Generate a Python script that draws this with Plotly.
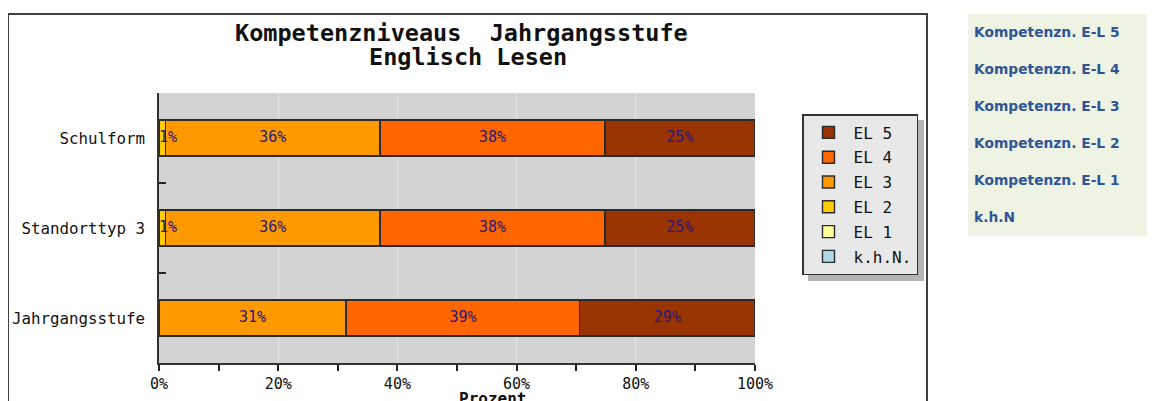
import plotly.graph_objects as go

# ---- data ----
categories = ["Schulform", "Standorttyp 3", "Jahrgangsstufe"]
series_names = ["k.h.N.", "EL 1", "EL 2", "EL 3", "EL 4", "EL 5"]
series_colors = ["#ADD8E6", "#FFFF99", "#FFCC00", "#FF9900", "#FF6600", "#993300"]
khn = [0, 0, 0]
el1 = [0, 0, 0]
el2 = [1.1, 1.1, 0]
el3 = [36.0, 36.0, 31.4]
el4 = [37.7, 37.7, 39.2]
el5 = [25.2, 25.2, 29.4]
series_values = [khn, el1, el2, el3, el4, el5]
x_ticks = [0, 20, 40, 60, 80, 100]
title_line1 = "Kompetenzniveaus  Jahrgangsstufe"
title_line2 = "Englisch Lesen"
x_title = "Prozent"
side_links = ["Kompetenzn. E-L 5", "Kompetenzn. E-L 4", "Kompetenzn. E-L 3",
              "Kompetenzn. E-L 2", "Kompetenzn. E-L 1", "k.h.N"]

# ---- layout geometry (window pixels; page body adds an 8px offset) ----
OFF = 8
W, H = 1155 - OFF, 401 - OFF
L, R, T, B = 159, 755, 93, 363          # plot area in window pixels
pw, ph = R - L, B - T


def px(x):
    return (x - L) / pw


def py(y):
    return (B - y) / ph


MONO = "DejaVu Sans Mono"

fig = go.Figure()
n = len(series_names)
for i, (name, color, vals) in enumerate(zip(series_names, series_colors, series_values)):
    fig.add_trace(go.Bar(
        y=categories, x=vals, name=name, orientation="h",
        marker=dict(color=color, line=dict(color="#2b2b2b", width=1.4)),
        width=0.4, legendgroup=name, legendrank=n - i,
        hoverinfo="skip",
    ))

# value labels: centred in each stacked segment; very narrow segments start at the segment's left edge
lab_x, lab_y, lab_t, lab_pos = [], [], [], []
for c_idx, cat in enumerate(categories):
    start = 0.0
    for vals in series_values:
        v = vals[c_idx]
        if v > 0:
            narrow = v < 3
            lab_x.append(start if narrow else start + v / 2)
            lab_pos.append("middle right" if narrow else "middle center")
            lab_y.append(cat)
            lab_t.append(f"{v:.0f}%")
        start += v
fig.add_trace(go.Scatter(
    x=lab_x, y=lab_y, text=lab_t, mode="text", textposition=lab_pos,
    textfont=dict(family=MONO, size=15, color="#2a1a80"),
    showlegend=False, hoverinfo="skip", cliponaxis=False,
))

shapes = [
    # outer frame
    dict(type="rect", xref="paper", yref="paper",
         x0=px(8), x1=px(927), y0=py(420), y1=py(14),
         line=dict(color="#404040", width=2), layer="below"),
    # side panel
    dict(type="rect", xref="paper", yref="paper",
         x0=px(968), x1=px(1170), y0=py(236), y1=py(14),
         line=dict(width=0), fillcolor="#EEF3E3", layer="below"),
    # legend shadow
    dict(type="rect", xref="paper", yref="paper",
         x0=px(808), x1=px(924), y0=py(281), y1=py(120),
         line=dict(width=0), fillcolor="#b4b4b4", layer="below"),
]

annotations = [
    dict(text=f"<b>{title_line1}</b>", xref="paper", yref="paper",
         x=px(461), y=py(33), showarrow=False, xanchor="center", yanchor="middle",
         font=dict(family=MONO, size=23.5, color="#111111")),
    dict(text=f"<b>{title_line2}</b>", xref="paper", yref="paper",
         x=px(468), y=py(57), showarrow=False, xanchor="center", yanchor="middle",
         font=dict(family=MONO, size=23.5, color="#111111")),
    dict(text=f"<b>{x_title}</b>", xref="paper", yref="paper",
         x=px(492), y=py(398), showarrow=False, xanchor="center", yanchor="middle",
         font=dict(family=MONO, size=16, color="#111111")),
]
link_y = [32, 69, 106, 143, 180, 217]
for txt, yy in zip(side_links, link_y):
    annotations.append(dict(
        text=f"<b>{txt}</b>", xref="paper", yref="paper",
        x=px(972), y=py(yy), showarrow=False, xanchor="left", yanchor="middle",
        font=dict(family="DejaVu Sans", size=13.8, color="#2f5597")))

fig.update_layout(
    width=W, height=H,
    margin=dict(l=L - OFF, r=W - (R - OFF), t=T - OFF, b=H - (B - OFF), pad=0,
                autoexpand=False),
    barmode="stack",
    paper_bgcolor="white",
    plot_bgcolor="#d3d3d3",
    font=dict(family=MONO, size=15, color="#111111"),
    showlegend=True,
    legend=dict(
        x=px(802), y=py(114), xanchor="left", yanchor="top",
        bgcolor="#e8e8e8", bordercolor="#333333", borderwidth=1.5,
        traceorder="grouped", tracegroupgap=1, itemwidth=40,
        font=dict(family=MONO, size=16, color="#111111"),
        itemclick=False, itemdoubleclick=False,
    ),
    xaxis=dict(
        range=[0, 100], tickvals=x_ticks, ticktext=[f"{v}%" for v in x_ticks],
        ticks="outside", ticklen=6, tickcolor="#222222", tickwidth=1.5,
        minor=dict(dtick=10, ticks="outside", ticklen=6, tickcolor="#222222", tickwidth=1.5,
                   showgrid=False),
        showgrid=True, gridcolor="#e4e4e4", gridwidth=1,
        showline=True, linecolor="#333333", linewidth=1.5,
        zeroline=False, fixedrange=True, automargin=False,
        tickfont=dict(family=MONO, size=15, color="#111111"),
    ),
    yaxis=dict(
        categoryorder="array", categoryarray=categories[::-1],
        tickson="boundaries", ticks="inside", ticklen=7,
        tickcolor="#222222", tickwidth=1.5,
        showline=True, linecolor="#333333", linewidth=1.5,
        showgrid=False, zeroline=False, fixedrange=True, automargin=False,
        ticklabelstandoff=9,
        tickfont=dict(family=MONO, size=15.8, color="#111111"),
    ),
    shapes=shapes,
    annotations=annotations,
    bargap=0.6,
)

fig.write_html("out.html")
